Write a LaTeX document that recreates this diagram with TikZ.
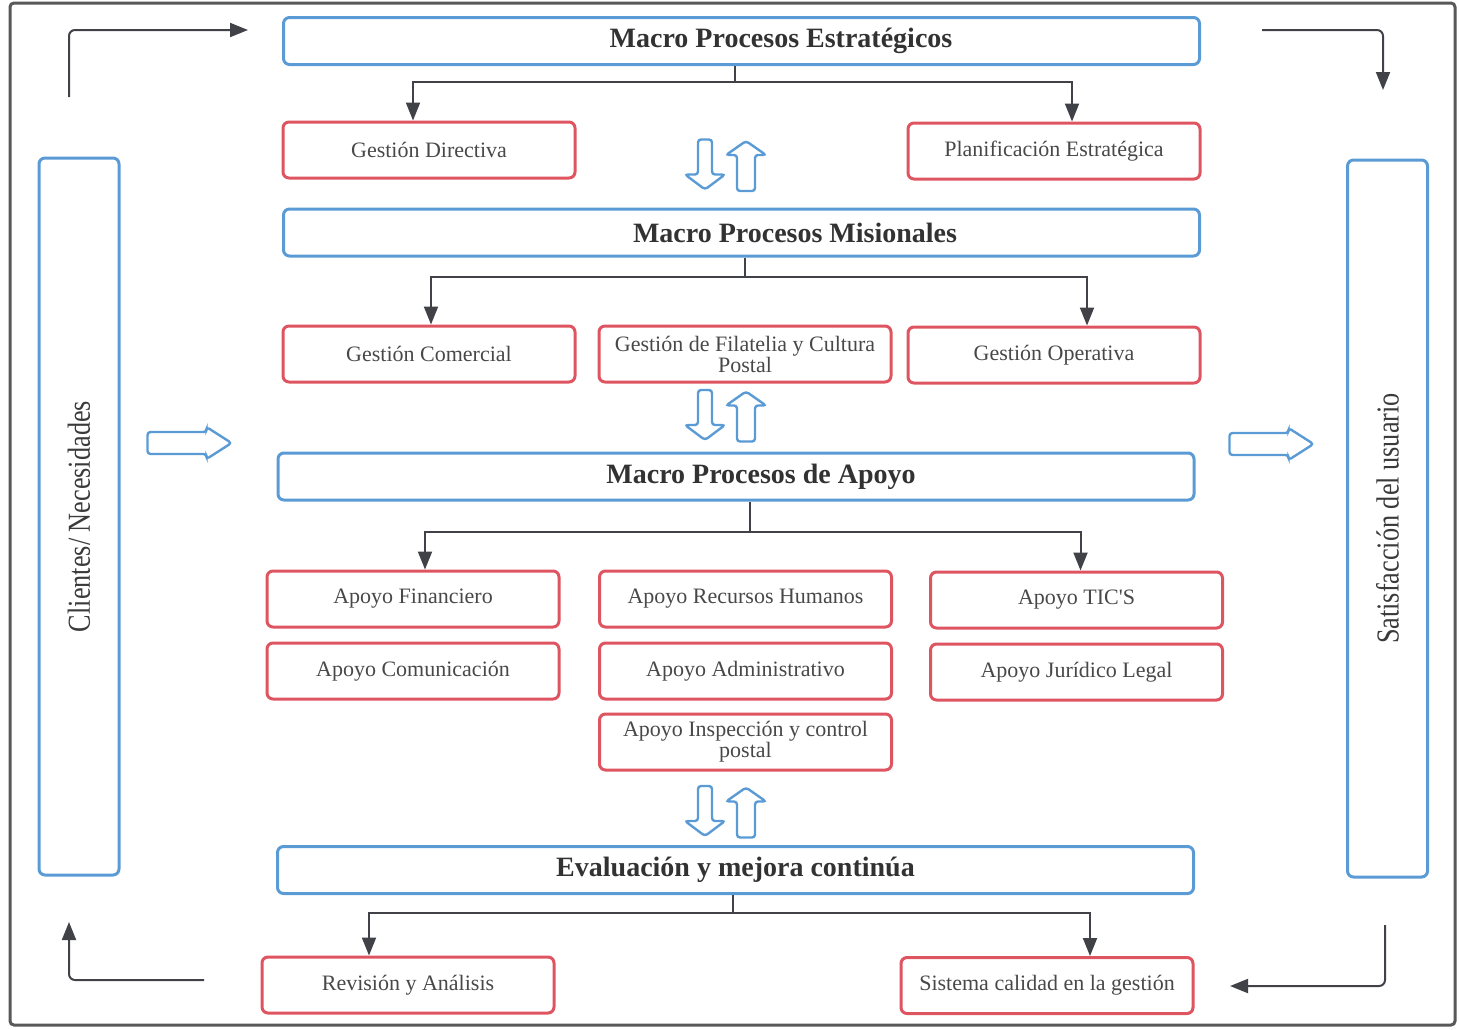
\documentclass[tikz,border=0pt]{standalone}
\usepackage{fontspec}
\setmainfont{Liberation Serif}
\newfontfamily\narrowserif[FakeStretch=0.82]{Liberation Serif}
\usetikzlibrary{arrows.meta}

\definecolor{procblue}{RGB}{91,155,213}
\definecolor{procred}{RGB}{222,84,96}
\definecolor{linkgray}{RGB}{64,66,72}
\definecolor{textgray}{RGB}{72,72,72}
\definecolor{framegray}{RGB}{88,88,88}

\tikzset{
  titleBox/.style={draw=procblue, line width=1.5pt, rounded corners=3pt, minimum width=458pt, minimum height=23.5pt, inner sep=0pt, text=textgray!70!black, font=\bfseries\fontsize{14}{16}\selectfont},
  procBox/.style={draw=procred, line width=1.5pt, rounded corners=3pt, minimum width=146pt, minimum height=28pt, inner sep=0pt, align=center, text=textgray, font=\fontsize{11}{10.5}\selectfont},
  sideBox/.style={draw=procblue, line width=1.5pt, rounded corners=3pt, rotate=90, minimum width=358.5pt, minimum height=40pt, inner sep=0pt, text=textgray!80!black, font=\narrowserif\fontsize{16}{18}\selectfont},
  link/.style={draw=linkgray, line width=1pt},
  linkArrow/.style={link, -{Triangle[length=9pt, width=7pt]}},
  hollow/.style={draw=procblue, line width=1.2pt, rounded corners=1.5pt, fill=white},
  pics/fatArrow/.style args={#1/#2/#3/#4}{code={
    \draw[hollow] (-#1,-#2) -- (#1-#4,-#2) -- (#1-#4,-#3) -- (#1,0) -- (#1-#4,#3) -- (#1-#4,#2) -- (-#1,#2) -- cycle;
  }}
}

\begin{document}
\begin{tikzpicture}[x=0.5pt, y=-0.5pt]
  \useasboundingbox (0,0) rectangle (1459,1029);
  \draw[framegray, line width=1.5pt, rounded corners=2pt] (10,3) rectangle (1455,1025);

  % side columns
  \node[sideBox] (clientes) at (79,516.5) {Clientes/ Necesidades};
  \node[sideBox] (usuario) at (1387.5,518.5) {Satisfacción del usuario};

  % macro processes
  \node[titleBox] (mpe) at (741.5,41) {\hspace*{39.5pt}Macro Procesos Estratégicos};
  \node[titleBox] (mpm) at (741.5,232.5) {\hspace*{53.5pt}Macro Procesos Misionales};
  \node[titleBox] (mpa) at (736,476.5) {\hspace*{25pt}Macro Procesos de Apoyo};
  \node[titleBox] (emc) at (735.5,870) {Evaluación y mejora continúa};

  % processes
  \node[procBox] (gd) at (429,150) {Gestión Directiva};
  \node[procBox] (pe) at (1054,151) {Planificación Estratégica};
  \node[procBox] (gc) at (429,354) {Gestión Comercial};
  \node[procBox] (gf) at (745,354) {Gestión de Filatelia y Cultura\\Postal};
  \node[procBox] (go) at (1054,355) {Gestión Operativa};
  \node[procBox] (af) at (413,599) {Apoyo Financiero};
  \node[procBox] (arh) at (745.5,599) {Apoyo Recursos Humanos};
  \node[procBox] (atic) at (1076.5,600) {Apoyo TIC\textquotesingle S};
  \node[procBox] (ac) at (413,671) {Apoyo Comunicación};
  \node[procBox] (aad) at (745.5,671) {Apoyo Administrativo};
  \node[procBox] (ajl) at (1076.5,672) {Apoyo Jurídico Legal};
  \node[procBox] (aic) at (745.5,742) {Apoyo Inspección y control\\postal};
  \node[procBox] (ra) at (408,985) {Revisión y Análisis};
  \node[procBox] (sc) at (1047,985.5) {Sistema calidad en la gestión};

  % branches
  \coordinate (j1) at (735,82);
  \coordinate (j2) at (745,277);
  \coordinate (j3) at (750,532);
  \coordinate (j4) at (733,913);
  \draw[link] (mpe.south -| j1) -- (j1);
  \draw[linkArrow] (j1) -| ([xshift=-8pt]gd.north);
  \draw[linkArrow] (j1) -| ([xshift=9pt]pe.north);
  \draw[link] (mpm.south -| j2) -- (j2);
  \draw[linkArrow] (j2) -| ([xshift=1pt]gc.north);
  \draw[linkArrow] (j2) -| ([xshift=16.5pt]go.north);
  \draw[link] (mpa.south -| j3) -- (j3);
  \draw[linkArrow] (j3) -| ([xshift=6pt]af.north);
  \draw[linkArrow] (j3) -| ([xshift=2pt]atic.north);
  \draw[link] (emc.south -| j4) -- (j4);
  \draw[linkArrow] (j4) -| ([xshift=-19.5pt]ra.north);
  \draw[linkArrow] (j4) -| ([xshift=21.5pt]sc.north);

  % loop arrows in the corners
  \coordinate (tlA) at (69,97);   \coordinate (tlB) at (248,30);
  \coordinate (trA) at (1262,30); \coordinate (trB) at (1383,90);
  \coordinate (blA) at (204,980); \coordinate (blB) at (69,922);
  \coordinate (brA) at (1385,925); \coordinate (brB) at (1230,986);
  \draw[linkArrow, rounded corners=3pt] (tlA) |- (tlB);
  \draw[linkArrow, rounded corners=3pt] (trA) -| (trB);
  \draw[linkArrow, rounded corners=3pt] (blA) -| (blB);
  \draw[linkArrow, rounded corners=3pt] (brA) |- (brB);

  % hollow arrows
  \foreach \yy in {164.5, 415, 811} {
    \pic[rotate=-90] at (705,\yy) {fatArrow=25/7/20/15};
    \pic[rotate=90] at (746,\yy+1.5) {fatArrow=25/9/20/14};
  }
  \pic at (189.5,443) {fatArrow=42/11/16/25};
  \pic at (1271.5,444) {fatArrow=42/11/16/25};
\end{tikzpicture}
\end{document}
